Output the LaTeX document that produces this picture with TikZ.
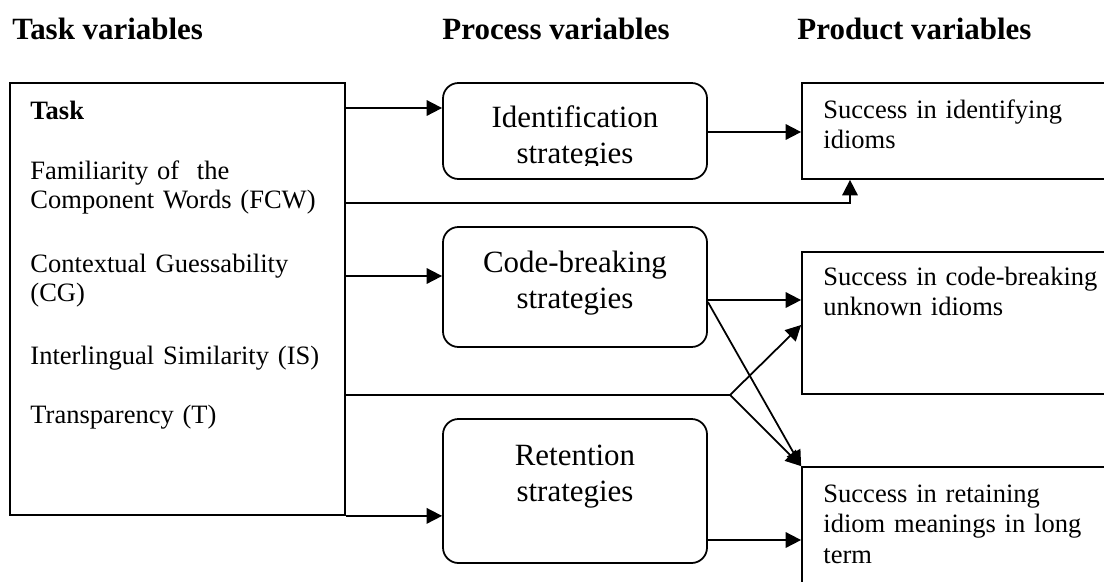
\documentclass[tikz,border=0pt]{standalone}
\usepackage{fontspec}
\setmainfont{Liberation Serif}
\usepackage{tikz}
\usetikzlibrary{arrows.meta, positioning, fit}
\tikzstyle{taskbox} = [rectangle, draw=black, line width=0.8pt, inner sep=0pt]
\tikzstyle{process} = [rectangle, rounded corners=7pt, draw=black, line width=0.8pt, inner sep=0pt]
\tikzstyle{outcome} = [rectangle, draw=black, line width=0.8pt, inner sep=0pt]
\tikzstyle{heading} = [anchor=base west, inner sep=0pt, font=\fontsize{14}{16}\selectfont\bfseries]
\tikzstyle{proctext} = [anchor=base, inner sep=0pt, align=center, text width=115pt, font=\fontsize{14}{16.3}\selectfont]
\tikzstyle{bodytext} = [anchor=base west, inner sep=0pt, align=left, text width=140pt, font=\fontsize{12}{14}\selectfont]
\tikzstyle{arrow} = [line width=0.8pt, -{Triangle[length=7pt, width=7pt]}]

\begin{document}
\begin{tikzpicture}[x=0.4525pt, y=-0.4525pt]
    \useasboundingbox (0,0) rectangle (1104,581);

    % column headings
    \node (taskhead) [heading] at (12,39) {Task variables};
    \node (prochead) [heading] at (442,39) {Process variables};
    \node (prodhead) [heading] at (797,39) {Product variables};

    % boxes
    \node (task) [taskbox, fit={(10,83) (345,515)}] {};
    \node (ident) [process, fit={(443,83) (707,179)}] {};
    \node (codeb) [process, fit={(443,227) (707,347)}] {};
    \node (reten) [process, fit={(443,419) (707,563)}] {};
    \node (succA) [outcome, fit={(802,83) (1125,179)}] {};
    \node (succB) [outcome, fit={(802,252) (1125,394)}] {};
    \node (succC) [outcome, fit={(802,467) (1125,610)}] {};

    % texts
    \node (tasktext) [bodytext, font=\fontsize{12}{13.3}\selectfont] at (30,119) {\textbf{Task}\\[14pt]
        Familiarity of\ \ the\\ Component Words (FCW)\\[15.5pt]
        Contextual Guessability\\ (CG)\\[15pt]
        Interlingual Similarity (IS)\\[13.5pt]
        Transparency (T)};
    % second line is cut off by the box margin
    \begin{scope}
        \clip (ident.north west) rectangle (ident.east |- 0,165);
        \node (identtext) [proctext] at (575,127) {Identification\\strategies};
    \end{scope}
    \node (codebtext) [proctext] at (575,272) {Code-breaking\\strategies};
    \node (retentext) [proctext] at (575,465) {Retention\\strategies};
    \node (succAtext) [bodytext] at (823,118) {Success in identifying\\idioms};
    \node (succBtext) [bodytext] at (823,285) {Success in code-breaking\\unknown idioms};
    \node (succCtext) [bodytext] at (823,502) {Success in retaining\\idiom meanings in long\\term};

    % connectors
    \coordinate (split) at (730,395);
    \draw [arrow] (task.east |- 0,108) -- (ident.west |- 0,108);
    \draw [arrow] (ident.east |- 0,132) -- (succA.west |- 0,132);
    \draw [arrow] (task.east |- 0,203) -| (succA.south west -| 850,0);
    \draw [arrow] (task.east |- 0,276) -- (codeb.west |- 0,276);
    \draw [arrow] (codeb.east |- 0,300) -- (succB.west |- 0,300);
    \draw [arrow] (codeb.east |- 0,302) -- (succC.north west);
    \draw [line width=0.8pt] (task.east |- split) -- (split);
    \draw [arrow] (split) -- (succB.west |- 0,325);
    \draw [arrow] (split) -- (succC.north west);
    \draw [arrow] (task.south east) -- (reten.west |- task.south east);
    \draw [arrow] (reten.east |- 0,540) -- (succC.west |- 0,540);
\end{tikzpicture}
\end{document}
